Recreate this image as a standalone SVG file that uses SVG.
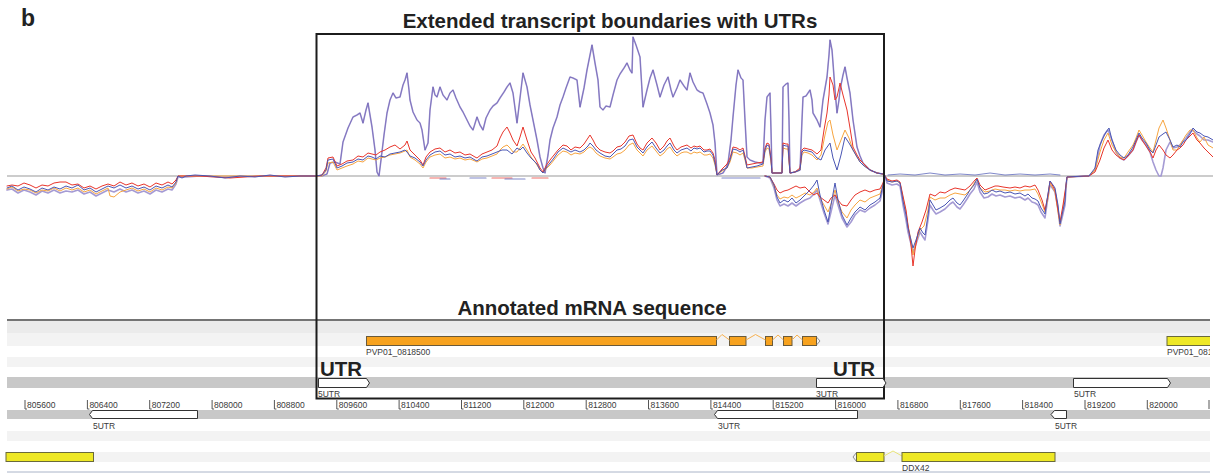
<svg xmlns="http://www.w3.org/2000/svg" width="1213" height="473" viewBox="0 0 1213 473">
<style>
.hd{font-family:"Liberation Sans",Arial,sans-serif;font-weight:bold;fill:#222}
.sm{font-family:"Liberation Sans",Arial,sans-serif;font-size:8.5px;fill:#3a3a3a}
.tr{fill:none;stroke-linejoin:round;stroke-linecap:round}
.lav{stroke:#a59bd4;stroke-width:1.6}
.dp{stroke:#4e3e9e;stroke-width:0.7;stroke-opacity:0.6}
.bl{stroke:#4a56b4;stroke-width:1}
.rd{stroke:#e8352b;stroke-width:1}
.or{stroke:#f7a540;stroke-width:1}
.utr{fill:#fff;stroke:#333;stroke-width:1}
.gor{fill:#f7a21e;stroke:#6a5a3a;stroke-width:1}
.gye{fill:#eee825;stroke:#6a6a3a;stroke-width:1}
.tick{fill:none;stroke:#555;stroke-width:1}
</style>
<defs>
<clipPath id="clipR"><rect x="0" y="0" width="1210" height="473"/></clipPath>
</defs>
<rect x="0" y="0" width="1213" height="473" fill="#fff"/>

<g id="bands">
<rect x="7" y="321" width="1203" height="12" fill="#ebebeb"/>
<rect x="7" y="333" width="1203" height="13" fill="#f3f3f3"/>
<rect x="7" y="357" width="1203" height="10" fill="#f3f3f3"/>
<rect x="7" y="377" width="1203" height="11" fill="#c8c8c8"/>
<rect x="7" y="410" width="1203" height="9" fill="#c8c8c8"/>
<rect x="7" y="431" width="1203" height="10" fill="#f3f3f3"/>
<rect x="7" y="452" width="1203" height="10" fill="#f3f3f3"/>
<line x1="7" y1="320" x2="1210" y2="320" stroke="#747474" stroke-width="2"/>
<line x1="7" y1="472" x2="1210" y2="472" stroke="#aab4c8" stroke-width="1"/>
<line x1="7" y1="176" x2="1213" y2="176" stroke="#9a9a9a" stroke-width="1.2"/>
</g>

<g id="traces-left">
<polyline class="tr lav" points="7,190 12,189 18,193 24,190 30,192 36,195 42,191 48,193 54,190 60,193 66,191 72,192 78,190 84,194 90,192 96,196 102,193 108,190 114,192 120,189 126,192 132,190 138,193 144,191 150,194 156,190 162,192 168,189 172,190 176,184 178,177 186,177 200,176 225,177 250,176 300,176 316,176"/>
<polyline class="tr or" points="7,189 12,187 18,191 24,189 30,190 36,193 42,190 48,191 54,188 60,191 66,188 72,190 78,188 84,192 90,190 96,194 102,191 108,188 110,196 114,197 120,192 126,190 132,188 138,191 144,189 150,192 156,188 162,190 168,187 172,188 176,183 178,176 316,176"/>
<polyline class="tr rd" points="7,186 12,185 18,186 24,183 30,185 36,188 42,185 48,186 54,183 60,182 66,182 72,185 78,184 84,188 90,186 96,189 102,186 108,184 114,186 120,182 126,185 132,183 138,186 144,184 150,187 156,183 162,185 168,182 172,184 176,180 178,176 200,176 230,178 260,176 316,176"/>
<polyline class="tr bl" points="7,188 12,186 18,190 24,187 30,189 36,192 42,188 48,190 54,187 60,189 66,186 72,188 78,185 84,190 90,188 96,192 102,189 108,186 114,188 120,185 126,188 132,186 138,189 144,187 150,190 156,186 162,188 168,185 172,187 176,182 178,176 182,178 186,176 195,175 210,176 225,178 240,176 255,177 270,175 285,177 300,176 316,176"/>
</g>

<g id="traces-box">
<polyline class="tr lav" points="316,176 322,176 327,174 330,163 335,162 340,164 343,142 348,128 353,117 357,115 360,113 363,123 366,110 368,103 370,115 372,127 375,150 377,172 379,176 381,160 384,135 387,113 390,100 393,93 396,98 400,97 403,85 405,80 407,73 409,90 410,100 413,112 417,120 420,123 422,130 425,150 428,143 430,110 433,87 435,95 437,97 440,87 443,95 447,100 450,93 453,90 456,98 460,107 463,112 467,120 470,126 473,130 477,117 480,125 483,130 486,118 490,110 493,106 497,103 500,98 504,92 507,87 510,83 513,93 517,123 520,98 523,73 527,87 530,105 533,120 537,140 540,157 543,168 545,173 548,155 550,140 553,128 557,117 560,105 563,97 566,88 570,77 573,78 577,80 580,107 584,88 587,70 590,55 592,45 595,63 598,80 600,107 603,110 606,106 610,107 613,95 617,80 620,74 624,68 627,63 630,70 632,73 633,37 636,45 640,57 643,107 647,90 650,78 653,70 657,85 660,97 664,85 668,77 671,90 673,97 677,88 680,80 684,86 687,90 690,73 693,82 697,90 700,92 703,93 707,104 710,113 713,125 715,143 717,175 720,174 723,173 726,168 728,163 731,140 733,117 736,85 738,70 741,78 743,80 745,120 747,157 750,160 755,162 760,163 763,163 765,120 767,97 770,93 771,130 772,173 777,173 782,173 783,87 786,84 788,83 789,120 790,173 795,172 800,170 802,120 803,97 806,96 810,90 812,100 813,113 817,120 820,127 823,100 827,77 829,55 830,40 832,50 833,63 835,90 837,113 839,100 840,90 843,75 845,67 847,78 850,93 853,120 857,147 860,156 863,163 867,167 870,170 877,173 883,174 885,176"/>
<polyline class="tr dp" points="316,176 322,176 327,174 330,163 335,162 340,164 343,142 348,128 353,117 357,115 360,113 363,123 366,110 368,103 370,115 372,127 375,150 377,172 379,176 381,160 384,135 387,113 390,100 393,93 396,98 400,97 403,85 405,80 407,73 409,90 410,100 413,112 417,120 420,123 422,130 425,150 428,143 430,110 433,87 435,95 437,97 440,87 443,95 447,100 450,93 453,90 456,98 460,107 463,112 467,120 470,126 473,130 477,117 480,125 483,130 486,118 490,110 493,106 497,103 500,98 504,92 507,87 510,83 513,93 517,123 520,98 523,73 527,87 530,105 533,120 537,140 540,157 543,168 545,173 548,155 550,140 553,128 557,117 560,105 563,97 566,88 570,77 573,78 577,80 580,107 584,88 587,70 590,55 592,45 595,63 598,80 600,107 603,110 606,106 610,107 613,95 617,80 620,74 624,68 627,63 630,70 632,73 633,37 636,45 640,57 643,107 647,90 650,78 653,70 657,85 660,97 664,85 668,77 671,90 673,97 677,88 680,80 684,86 687,90 690,73 693,82 697,90 700,92 703,93 707,104 710,113 713,125 715,143 717,175 720,174 723,173 726,168 728,163 731,140 733,117 736,85 738,70 741,78 743,80 745,120 747,157 750,160 755,162 760,163 763,163 765,120 767,97 770,93 771,130 772,173 777,173 782,173 783,87 786,84 788,83 789,120 790,173 795,172 800,170 802,120 803,97 806,96 810,90 812,100 813,113 817,120 820,127 823,100 827,77 829,55 830,40 832,50 833,63 835,90 837,113 839,100 840,90 843,75 845,67 847,78 850,93 853,120 857,147 860,156 863,163 867,167 870,170 877,173 883,174 885,176"/>
<polyline class="tr or" points="316,176 322,176 326,171 328,163 333,162 337,170 342,168 347,166 353,164 358,161 363,162 368,158 372,159 376,160 380,158 385,157 390,155 395,154 400,153 405,151 407,150 410,157 415,160 420,164 423,168 426,162 430,157 435,155 440,154 445,158 450,157 455,159 460,158 465,160 470,159 475,161 477,162 482,159 487,158 492,156 497,154 500,150 503,147 507,145 510,148 513,152 517,152 520,148 523,144 527,150 531,157 535,162 537,165 540,170 543,173 546,169 550,165 554,160 558,155 563,151 567,152 571,155 575,153 580,154 584,152 588,148 590,147 593,149 596,153 600,156 605,158 610,159 613,157 617,154 621,153 625,150 629,145 633,143 637,150 640,153 643,156 647,150 652,146 656,151 660,156 664,153 667,149 670,147 674,153 677,156 681,153 684,152 687,152 691,154 694,152 697,153 700,152 704,155 707,155 710,154 713,158 715,165 717,175 722,171 727,168 730,162 733,152 737,153 740,155 743,153 745,160 747,168 752,168 757,167 763,166 765,152 767,148 769,149 771,162 772,173 777,173 782,173 783,148 786,149 788,149 789,162 790,173 795,172 800,170 802,155 804,152 808,153 812,155 817,160 821,155 825,135 828,122 830,120 833,135 837,150 841,140 845,130 849,138 853,150 857,157 860,162 863,165 867,168 870,170 877,173 883,174 885,176"/>
<polyline class="tr rd" points="316,176 322,175 326,168 328,158 333,157 337,166 342,164 347,161 353,160 358,156 363,157 368,153 372,154 376,155 380,152 385,150 390,147 395,145 400,149 405,145 407,141 410,150 415,155 420,160 423,165 426,157 430,152 435,149 440,148 445,152 450,150 455,153 460,152 465,155 470,154 475,157 477,158 482,154 487,152 492,150 497,146 500,138 503,132 507,127 510,133 513,140 517,146 520,137 523,127 527,140 531,152 535,158 537,162 540,168 543,172 546,166 550,160 554,155 558,150 563,145 567,146 571,150 575,147 580,148 584,144 588,138 590,135 593,140 596,146 600,150 605,152 610,153 613,151 617,147 621,146 625,142 629,136 633,135 637,144 640,148 643,150 647,143 652,138 656,143 660,150 664,146 667,141 670,138 674,146 677,150 681,147 684,146 687,145 691,148 694,146 697,147 700,146 704,150 707,150 710,149 713,153 715,160 717,175 722,169 727,164 730,158 733,147 737,148 740,150 743,148 745,156 747,165 752,164 757,163 763,162 765,148 767,143 769,144 771,158 772,173 777,173 782,173 783,143 786,144 788,144 789,158 790,173 795,172 800,168 802,150 804,148 808,149 812,150 817,154 821,150 824,130 827,113 829,95 830,77 833,85 835,100 837,97 839,88 840,83 843,95 847,110 850,128 853,147 857,155 860,160 863,163 867,167 870,170 877,173 883,174 885,176"/>
<polyline class="tr bl" points="316,176 322,175 326,170 328,160 333,159 337,168 342,166 347,163 353,162 358,159 363,160 368,156 372,157 376,159 380,156 385,157 390,154 395,153 400,152 405,150 407,152 410,156 415,158 420,162 423,166 426,160 430,155 435,152 440,151 445,155 450,154 455,157 460,156 465,158 470,157 475,160 477,161 482,157 487,156 492,154 497,152 502,150 507,150 512,154 517,148 520,150 523,147 527,153 531,158 535,162 537,164 540,170 543,173 546,168 550,163 554,158 558,152 563,148 567,150 571,152 575,150 580,152 584,150 588,146 590,143 593,146 596,150 600,153 605,156 610,157 613,154 617,150 621,149 625,146 629,140 633,139 637,147 640,150 643,153 647,147 652,142 656,148 660,153 664,150 667,146 670,143 674,150 677,153 681,150 684,149 687,148 691,151 694,148 697,149 700,148 704,152 707,151 710,151 713,155 715,163 717,175 722,170 727,168 730,160 733,149 737,150 740,152 743,150 745,158 747,168 752,167 757,166 763,164 765,150 767,145 769,146 771,160 772,173 777,173 782,173 783,145 786,146 788,146 789,160 790,173 795,172 800,170 802,152 804,150 808,151 812,152 817,158 821,160 825,150 830,143 833,158 837,170 841,155 845,137 849,143 853,150 857,157 860,162 863,165 867,168 870,170 877,173 883,174 885,176"/>
<g class="tr" stroke-width="1.2" stroke-opacity="0.7">
<polyline stroke="#e8352b" points="430,178 446,178"/>
<polyline stroke="#4a56b4" points="440,179 450,179"/>
<polyline stroke="#4a56b4" points="470,178 486,178"/>
<polyline stroke="#e8352b" points="492,178 512,178"/>
<polyline stroke="#4a56b4" points="505,179 525,179"/>
<polyline stroke="#e8352b" points="532,178 548,178"/>
<polyline stroke="#4a56b4" points="722,178 760,178"/>
</g>
<polyline class="tr lav" points="765,176 770,178 774,188 777,200 780,206 784,204 788,206 792,203 796,206 800,203 805,200 810,198 814,194 817,190 820,200 824,213 828,224 831,212 835,195 838,205 842,218 847,227 851,222 855,215 860,210 865,212 870,208 875,205 880,201 883,188 885,176"/>
<polyline class="tr or" points="765,176 770,177 774,186 777,195 780,199 784,197 788,198 792,195 796,198 800,196 805,193 810,195 814,192 817,188 820,198 824,205 828,212 831,204 835,190 838,202 842,212 847,218 851,210 855,205 860,200 865,202 870,198 875,196 880,194 883,184 885,176"/>
<polyline class="tr rd" points="765,176 770,177 774,184 777,190 780,193 784,191 788,190 792,188 796,186 800,188 805,187 810,192 814,195 817,193 820,197 824,200 828,203 831,198 835,195 838,200 842,205 847,206 851,200 855,195 860,192 865,190 870,192 875,190 880,189 883,183 885,176"/>
<polyline class="tr bl" points="765,176 770,177 774,185 777,197 780,203 784,200 788,202 792,198 796,203 800,200 805,195 810,190 814,185 817,180 820,195 824,210 828,222 831,205 835,183 838,200 842,215 847,225 851,218 855,212 860,207 865,210 870,205 875,202 880,198 883,185 885,176"/>
</g>

<g id="traces-right">
<polyline class="tr lav" points="885,176 887,183 892,185 897,184 900,186 903,205 906,220 908,232 911,244 913,252 916,244 920,232 923,237 925,240 928,220 930,205 933,210 936,214 940,212 945,209 950,204 953,202 957,207 960,209 963,205 967,199 970,194 974,189 977,182 980,192 984,198 988,197 992,194 996,196 1000,195 1005,197 1010,196 1015,198 1020,197 1025,200 1028,198 1032,202 1035,203 1038,205 1041,212 1045,218 1047,204 1050,185 1053,189 1055,192 1058,209 1060,226 1062,218 1065,205 1066,188 1067,177 1089,176 1095,170 1100,145 1104,135 1108,130 1112,140 1116,152 1120,158 1124,160 1128,156 1133,150 1136,142 1139,135 1142,140 1146,145 1150,152 1153,162 1156,170 1159,176 1161,176 1163,168 1166,150 1170,142 1173,148 1177,147 1180,145 1183,141 1186,138 1190,132 1193,130 1197,134 1200,136 1204,140 1208,140 1213,142"/>
<polyline class="tr or" points="885,176 887,180 892,182 897,181 900,183 903,198 906,212 908,226 911,240 913,255 916,242 920,230 924,226 928,210 930,197 935,200 940,198 945,198 950,195 955,193 960,194 965,195 970,190 975,182 977,179 980,188 985,192 990,191 995,189 1000,190 1005,190 1010,191 1015,190 1020,191 1025,190 1030,190 1035,189 1038,194 1042,204 1045,212 1048,198 1050,183 1055,192 1058,212 1060,225 1063,208 1066,187 1067,177 1089,176 1095,170 1100,152 1104,140 1108,133 1112,145 1116,152 1120,157 1124,158 1128,152 1133,145 1136,138 1139,130 1142,135 1146,142 1150,148 1153,152 1156,140 1159,128 1163,120 1166,128 1170,140 1173,150 1177,150 1180,145 1183,140 1186,135 1190,130 1193,130 1197,138 1200,142 1204,137 1208,145 1213,148"/>
<polyline class="tr rd" points="885,176 887,179 892,181 897,180 900,182 903,196 906,210 908,225 911,245 913,266 915,250 918,232 922,222 926,210 930,194 935,196 940,192 945,193 950,190 955,188 960,189 965,190 970,186 975,180 977,178 980,185 985,190 990,188 995,186 998,186 1003,187 1010,188 1015,187 1020,188 1025,186 1030,187 1035,185 1038,190 1042,200 1045,210 1048,195 1050,181 1055,190 1058,210 1060,222 1063,205 1066,185 1067,177 1089,176 1095,172 1100,160 1104,148 1108,140 1112,150 1116,155 1120,158 1124,160 1128,156 1133,150 1136,142 1139,135 1142,140 1146,146 1150,152 1153,158 1156,150 1159,145 1163,150 1166,155 1170,158 1173,155 1177,150 1180,148 1183,145 1186,140 1190,136 1193,133 1197,140 1200,143 1204,148 1208,152 1213,157"/>
<polyline class="tr bl" points="885,176 887,181 892,182 897,181 900,183 903,201 906,215 908,228 911,240 913,248 916,240 920,228 923,233 925,235 928,215 930,200 933,205 936,210 940,208 945,205 950,200 953,198 957,203 960,205 963,201 967,195 970,190 974,185 977,179 980,188 984,194 988,193 992,190 996,192 1000,191 1005,193 1010,192 1015,194 1020,193 1025,196 1028,194 1032,198 1035,199 1038,201 1041,208 1045,214 1047,200 1050,181 1053,185 1055,188 1058,205 1060,224 1062,215 1065,201 1066,185 1067,177 1085,176 1089,176 1092,172 1095,168 1098,150 1102,140 1106,132 1109,128 1112,140 1116,150 1120,155 1124,158 1128,155 1133,147 1136,140 1139,133 1142,138 1146,143 1150,150 1153,153 1156,145 1159,137 1163,134 1166,132 1170,140 1173,147 1177,145 1180,147 1183,142 1186,140 1190,134 1193,128 1197,132 1200,133 1204,136 1208,137 1213,140"/>
<polyline class="tr bl" stroke-opacity="0.7" points="888,175 900,174 915,175 930,173 945,175 960,174 975,175 990,173 1005,175 1020,174 1035,175 1050,174 1060,175"/>
</g>

<g id="highlight-box">
<rect x="316.5" y="34" width="567.5" height="364.5" fill="none" stroke="#1c1c1c" stroke-width="2"/>
</g>

<g id="ruler">
<g class="tick">
<path d="M25,400v9h2M87.4,400v9h2M149.7,400v9h2M212.1,400v9h2M274.4,400v9h2M336.8,400v9h2M399.1,400v9h2M461.5,400v9h2M523.8,400v9h2M586.2,400v9h2M648.5,400v9h2M710.9,400v9h2M773.2,400v9h2M835.6,400v9h2M897.9,400v9h2M960.3,400v9h2M1022.6,400v9h2M1085,400v9h2M1147.3,400v9h2M1209,400v9"/>
</g>
<g class="sm">
<text x="27" y="407.5">805600</text>
<text x="89.4" y="407.5">806400</text>
<text x="151.7" y="407.5">807200</text>
<text x="214.1" y="407.5">808000</text>
<text x="276.4" y="407.5">808800</text>
<text x="338.8" y="407.5">809600</text>
<text x="401.1" y="407.5">810400</text>
<text x="463.5" y="407.5">811200</text>
<text x="525.8" y="407.5">812000</text>
<text x="588.2" y="407.5">812800</text>
<text x="650.5" y="407.5">813600</text>
<text x="712.9" y="407.5">814400</text>
<text x="775.2" y="407.5">815200</text>
<text x="837.6" y="407.5">816000</text>
<text x="899.9" y="407.5">816800</text>
<text x="962.3" y="407.5">817600</text>
<text x="1024.6" y="407.5">818400</text>
<text x="1087" y="407.5">819200</text>
<text x="1149.3" y="407.5">820000</text>
</g>
</g>

<g id="gene-orange">
<rect class="gor" x="366.5" y="336.5" width="350" height="9"/>
<rect class="gor" x="729.5" y="336.5" width="16.5" height="9"/>
<rect class="gor" x="765.5" y="336.5" width="7" height="9"/>
<rect class="gor" x="783.5" y="336.5" width="8.5" height="9"/>
<rect class="gor" x="802.5" y="336.5" width="14" height="9"/>
<path d="M816.5,337 L820,341 L816.5,345" fill="none" stroke="#777" stroke-width="0.8"/>
<polyline fill="none" stroke="#f7b050" stroke-width="1" points="716.5,340 722,334.5 729.5,340"/>
<polyline fill="none" stroke="#f7b050" stroke-width="1" points="746,340 755.5,334.5 765.5,340"/>
<polyline fill="none" stroke="#f7b050" stroke-width="1" points="772.5,340 778,335 783.5,340"/>
<polyline fill="none" stroke="#f7b050" stroke-width="1" points="792,340 797,335 802.5,340"/>
<text class="sm" x="366" y="354.5">PVP01_0818500</text>
</g>

<g id="gene-yellow-top" clip-path="url(#clipR)">
<rect class="gye" x="1167" y="336.5" width="50" height="9"/>
<text class="sm" x="1167" y="354.5">PVP01_081</text>
</g>

<g id="utr-upper">
<path class="utr" d="M318.5,378.5 H366.5 L369.5,383 L366.5,387.5 H318.5 Z"/>
<text class="sm" x="318" y="397">5UTR</text>
<path class="utr" d="M816.5,378.5 H883 L886,383 L883,387.5 H816.5 Z"/>
<text class="sm" x="816" y="397">3UTR</text>
<path class="utr" d="M1073.5,378.5 H1167.5 L1170.5,383 L1167.5,387.5 H1073.5 Z"/>
<text class="sm" x="1074" y="397">5UTR</text>
</g>

<g id="utr-lower">
<path class="utr" d="M197.5,410.5 H92.5 L89.5,414.5 L92.5,418.5 H197.5 Z"/>
<text class="sm" x="93" y="429">5UTR</text>
<path class="utr" d="M857.5,410.5 H717.5 L714.5,414.5 L717.5,418.5 H857.5 Z"/>
<text class="sm" x="718" y="429">3UTR</text>
<path class="utr" d="M1066.5,410.5 H1054.5 L1051,414.5 L1054.5,418.5 H1066.5 Z"/>
<text class="sm" x="1055" y="429">5UTR</text>
</g>

<g id="gene-yellow-bottom">
<rect class="gye" x="6" y="452.5" width="87.5" height="9"/>
<rect class="gye" x="856.5" y="452.5" width="27.5" height="9"/>
<path d="M856.5,452.5 L853,457 L856.5,461.5" fill="none" stroke="#777" stroke-width="0.8"/>
<polyline fill="none" stroke="#e8e47a" stroke-width="1" points="884,456 893,451 902,456"/>
<rect class="gye" x="902" y="452.5" width="153" height="9"/>
<text class="sm" x="902" y="470.5">DDX42</text>
</g>

<g id="labels">
<text class="hd" x="21" y="25.5" font-size="23">b</text>
<text class="hd" x="610" y="28" font-size="20.5" text-anchor="middle">Extended transcript boundaries with UTRs</text>
<text class="hd" x="592" y="314.5" font-size="20.5" text-anchor="middle">Annotated mRNA sequence</text>
<text class="hd" x="320" y="375.5" font-size="20.5">UTR</text>
<text class="hd" x="833" y="375.5" font-size="20.5">UTR</text>
</g>
</svg>
